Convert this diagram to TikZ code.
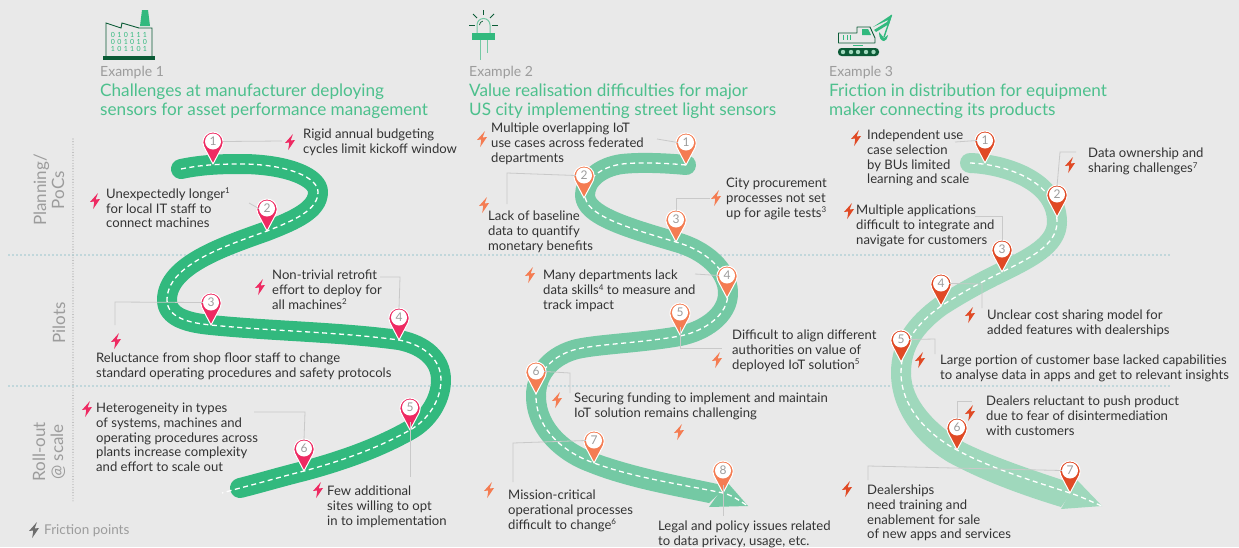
\documentclass[tikz,border=0pt]{standalone}
\usepackage{fontspec}
\setmainfont{Lato}
\definecolor{bg}{HTML}{E9E9E9}
\definecolor{roadA}{HTML}{32B97E}
\definecolor{roadB}{HTML}{74C9A4}
\definecolor{roadC}{HTML}{9FD8BC}
\definecolor{pinA}{HTML}{EE2A62}
\definecolor{pinB}{HTML}{F47C52}
\definecolor{pinC}{HTML}{E04A25}
\definecolor{titlegreen}{HTML}{4DC08D}
\definecolor{softgrey}{HTML}{9C9C9C}
\definecolor{bodytext}{HTML}{333333}
\definecolor{leadgrey}{HTML}{C9C9C9}
\definecolor{darkgreen}{HTML}{0B5B36}
\definecolor{teal}{HTML}{3F9FAF}
\tikzset{
  x=1pt,y=-1pt,
  txt/.style={anchor=north west,inner sep=0pt,align=left,text=bodytext,font=\fontsize{13.1}{14.7}\selectfont,execute at begin node=\rule{0pt}{10pt}},
  sidetxt/.style={rotate=90,inner sep=0pt,align=center,text=softgrey,font=\fontsize{17}{18}\selectfont},
  exlabel/.style={anchor=base west,inner sep=0pt,text=softgrey,font=\fontsize{14}{15}\selectfont},
  headtxt/.style={anchor=north west,inner sep=0pt,align=left,text=titlegreen,font=\fontsize{17.15}{19}\selectfont,execute at begin node=\rule{0pt}{14pt}},
  roadline/.style={line width=20pt,line cap=round,line join=round},
  dashline/.style={draw=white,line width=1.3pt,dash pattern=on 5pt off 3.5pt},
  leader/.style={draw=leadgrey,line width=0.8pt},
  sepline/.style={draw=teal,line width=1.3pt,line cap=round,dash pattern=on 0pt off 4pt},
  vsep/.style={draw=softgrey,line width=1.1pt,line cap=round,dash pattern=on 0pt off 2.7pt},
  pinhead/.style={circle,fill=white,minimum size=16pt,inner sep=0pt,text=softgrey,font=\fontsize{12}{12}\selectfont},
  digit/.style={inner sep=0pt,text=roadA,font=\fontsize{7}{7}\selectfont}
}
% bolt: centre x, y, colour
\newcommand{\boltmark}[3]{\fill[#3] (#1+3,#2-8) -- (#1-5,#2+1) -- (#1-0.7,#2+0.5) -- (#1-1.8,#2+8) -- (#1+5,#2-2) -- (#1+0.6,#2-1.5) -- cycle;}
% pin: name, tip x, tip y, colour, number
\newcommand{\pinmark}[5]{%
  \draw[white,line width=1pt,fill=#4,line join=round] (#2,#3) -- (#2-9.2,#3-17.5) arc[start angle=155,end angle=385,radius=10.2] -- cycle;
  \node[pinhead] (#1) at (#2,#3-22.5) {#5};}
\newcommand{\tx}[3]{\node[txt] at (#1,#2-5) {#3};}
\newcommand{\up}[1]{{\fontsize{8}{8}\selectfont\raisebox{4.5pt}{#1}}}
\newcommand{\roadAcurve}{(181,169) .. controls (205,164) and (225,164) .. (245,164) .. controls (290,165) and (318,178) .. (318,192) .. controls (318,210) and (295,220) .. (267,231) .. controls (225,246) and (167,265) .. (167,300) .. controls (167,318) and (190,323) .. (211,325) .. controls (270,331) and (340,332) .. (399,340) .. controls (425,345) and (441,360) .. (441,380) .. controls (441,400) and (428,420) .. (410,430) .. controls (380,447) and (345,460) .. (304,471) .. controls (280,477) and (260,483) .. (240,488)}
\newcommand{\roadBcurve}{(686,165) .. controls (665,163) and (640,162) .. (622,164) .. controls (600,167) and (585,180) .. (585,195) .. controls (585,215) and (625,227) .. (676,242) .. controls (705,250) and (728,270) .. (728,293) .. controls (728,315) and (705,331) .. (680,336) .. controls (640,343) and (600,344) .. (577,349) .. controls (553,355) and (536,372) .. (536,396)}
\newcommand{\roadCcurve}{(970,163) .. controls (1003,164) and (1057,180) .. (1057,222) .. controls (1057,245) and (1030,258) .. (1002,272) .. controls (975,285) and (955,297) .. (941,306) .. controls (915,325) and (901,345) .. (901,373)}
\begin{document}
\begin{tikzpicture}
\useasboundingbox (0,0) rectangle (1239,547);
\fill[bg] (0,0) rectangle (1239,547);

% separators
\coordinate (sa1) at (9,255); \coordinate (sa2) at (1170,255);
\coordinate (sb1) at (9,386); \coordinate (sb2) at (1170,386);
\coordinate (va) at (73,139); \coordinate (vb) at (73,502);
\draw[sepline] (sa1) -- (sa2);
\draw[sepline] (sb1) -- (sb2);
\draw[vsep] (va) -- (vb);
\node[sidetxt] at (49,190) {Planning/\\PoCs};
\node[sidetxt] at (59,323) {Pilots};
\node[sidetxt] at (49,452) {Roll-out\\@ scale};

% headers
\node[exlabel] at (100,76) {Example 1};
\node[headtxt] at (100,84) {Challenges at manufacturer deploying\\sensors for asset performance management};
\node[exlabel] at (469,76) {Example 2};
\node[headtxt] at (469,84) {Value realisation difficulties for major\\US city implementing street light sensors};
\node[exlabel] at (829,76) {Example 3};
\node[headtxt] at (829,84) {Friction in distribution for equipment\\maker connecting its products};

% factory icon
\fill[roadA] (142,10) -- (148,10) -- (150,26) -- (140,26) -- cycle;
\draw[darkgreen,line width=0.9pt] (106,56) -- (106,23) -- (121,28) -- (122,23) -- (139,28) -- (152,28) -- (152,56);
\fill[darkgreen] (103,56) rectangle (155,60);
\node[digit] at (129,35) {0\,\,1\,\,0\,\,1\,\,1\,\,1};
\node[digit] at (129,42) {0\,\,0\,\,1\,\,0\,\,1\,\,0};
\node[digit] at (129,49) {1\,\,0\,\,1\,\,1\,\,0\,\,1};

% LED icon
\draw[roadB,line width=1pt] (477,33) -- (477,25) arc[start angle=180,end angle=360,radius=6.5] -- (490,33);
\draw[darkgreen,line width=0.7pt] (479.5,25) arc[start angle=180,end angle=260,radius=4];
\fill[roadA] (472,33) rectangle (495,40);
\draw[roadB,line width=1pt] (480,40) -- (480,60);
\draw[roadB,line width=1pt] (487,40) -- (487,53);
\draw[darkgreen,line width=0.8pt] (483.5,10) -- (483.5,15);
\draw[darkgreen,line width=0.8pt] (473,14) -- (477,18);
\draw[darkgreen,line width=0.8pt] (494,14) -- (490,18);
\draw[darkgreen,line width=0.8pt] (469,25) -- (475,25);
\draw[darkgreen,line width=0.8pt] (492,25) -- (498,25);

% excavator icon
\draw[darkgreen,line width=0.9pt,line join=round] (838.5,42) -- (838.5,33) -- (857,33) -- (857,27) -- (870,27) -- (875,38) -- (875,43) -- (838.5,43) -- cycle;
\fill[roadA] (862,29) -- (868,29) -- (871,35) -- (862,35) -- cycle;
\draw[roadA,line width=0.8pt] (843,35) -- (843,40) (847,35) -- (847,40) (850.5,35) -- (850.5,40) (853,45) -- (863,45);
\fill[darkgreen,rounded corners=3.5pt] (838,48) rectangle (879,56);
\foreach \cx in {843,851,858,866,873.5} {\fill[roadC] (\cx,52) circle[radius=2.2];}
\fill[roadA] (873,27) -- (892,14.5) -- (889,24) -- (876,32) -- (874,30) -- (887,22) -- (888,20) -- cycle;
\draw[roadA,line width=1.4pt] (891.5,15) -- (884,37);
\fill[roadA] (879,32) .. controls (879,38) and (881,41) .. (884,41) .. controls (886,41) and (887,39) .. (888,35) -- (884,38) -- cycle;

% road 1
\draw[roadA,roadline] \roadAcurve;
\draw[dashline] \roadAcurve -- (222,493);

% road 2
\draw[roadB,roadline,line cap=round] \roadBcurve;
\fill[roadB] (546,396) .. controls (546,425) and (572,446) .. (598,454) .. controls (640,469) and (690,478) .. (727,486) -- (709,503) .. controls (670,495) and (625,487) .. (588,472) .. controls (555,460) and (526,432) .. (526,396) -- cycle;
\fill[roadB] (727,482) -- (748,506) -- (709,507) -- cycle;
\draw[dashline] \roadBcurve .. controls (536,430) and (565,453) .. (594,463) .. controls (635,478) and (680,484) .. (723,493) .. controls (732,495) and (740,501) .. (748,506);

% road 3
\draw[roadC,roadline] \roadCcurve;
\fill[roadC] (911,373) .. controls (911,400) and (935,425) .. (965,443) .. controls (1000,460) and (1045,474) .. (1077,485) -- (1061,507) .. controls (1025,496) and (985,482) .. (948,462) .. controls (915,442) and (891,410) .. (891,373) -- cycle;
\fill[roadC] (1077,480) -- (1102,506) -- (1061,509) -- cycle;
\draw[dashline] \roadCcurve .. controls (901,405) and (925,433) .. (957,450) .. controls (990,468) and (1030,480) .. (1070,493) .. controls (1080,496) and (1092,502) .. (1102,506);

% leader ends
\coordinate (la) at (282,141);
\coordinate (lb) at (249,203);
\coordinate (lc1) at (115,302); \coordinate (lc2) at (115,325);
\coordinate (ld1) at (380,277); \coordinate (ld2) at (400,277);
\coordinate (le) at (410,477);
\coordinate (lf1) at (254,412); \coordinate (lf2) at (305,412);
\coordinate (ma) at (657,139);
\coordinate (mb1) at (507,173); \coordinate (mb2) at (507,204);
\coordinate (mc1) at (676,198); \coordinate (mc2) at (710,198);
\coordinate (md) at (695,274);
\coordinate (me1) at (680,348); \coordinate (me2) at (722,348);
\coordinate (mf1) at (570,373); \coordinate (mf2) at (570,393);
\coordinate (mg1) at (513,443); \coordinate (mg2) at (513,482);
\coordinate (mh) at (723,516);
\coordinate (na) at (955,142);
\coordinate (nb1) at (1060,152); \coordinate (nb2) at (1076,152);
\coordinate (nc1) at (975,216); \coordinate (nc2) at (1002,216);
\coordinate (nd1) at (982,284); \coordinate (nd2) at (982,308);
\coordinate (ne1) at (935,339); \coordinate (ne2) at (935,354);
\coordinate (nf1) at (957,401); \coordinate (nf2) at (972,401);
\coordinate (ng1) at (868,466); \coordinate (ng2) at (868,480);

% pins
\pinmark{aa}{213}{164}{pinA}{1}
\pinmark{ab}{267}{231}{pinA}{2}
\pinmark{ac}{211}{325}{pinA}{3}
\pinmark{ad}{399}{340}{pinA}{4}
\pinmark{ae}{410}{430}{pinA}{5}
\pinmark{af}{304}{471}{pinA}{6}
\pinmark{ba}{686}{165}{pinB}{1}
\pinmark{bb}{584}{198}{pinB}{2}
\pinmark{bc}{676}{242}{pinB}{3}
\pinmark{bd}{727}{298}{pinB}{4}
\pinmark{be}{680}{335}{pinB}{5}
\pinmark{bf}{536}{394}{pinB}{6}
\pinmark{bg}{594}{463}{pinB}{7}
\pinmark{bh}{723}{493}{pinB}{8}
\pinmark{ca}{985}{163}{pinC}{1}
\pinmark{cb}{1057}{217}{pinC}{2}
\pinmark{cc}{1002}{272}{pinC}{3}
\pinmark{cd}{941}{306}{pinC}{4}
\pinmark{ce}{901}{362}{pinC}{5}
\pinmark{cf}{957}{450}{pinC}{6}
\pinmark{cg}{1070}{493}{pinC}{7}

% leaders
\draw[leader] (aa.east) ++(2,0) -- (la);
\draw[leader] (lb) -- (ab.west);
\draw[leader] (lc2) -- (lc1) -- (ac.west);
\draw[leader] (ld1) -- (ld2) -- (ad.north);
\draw[leader] (ae.south) ++(0,6.5) -- (le);
\draw[leader] (lf1) -- (lf2) -- (af.north);
\draw[leader] (ma) -- (ba.west);
\draw[leader] (mb2) -- (mb1) -- (bb.west);
\draw[leader] (bc.north) -- (mc1) -- (mc2);
\draw[leader] (md) -- (bd.west);
\draw[leader] (be.south) ++(0,6.5) -- (me1) -- (me2);
\draw[leader] (bf.east) -- (mf1) -- (mf2);
\draw[leader] (mg2) -- (mg1) -- (bg.west);
\draw[leader] (bh.south) ++(0,6.5) -- (mh);
\draw[leader] (na) -- (ca.west);
\draw[leader] (cb.north) -- (nb1) -- (nb2);
\draw[leader] (nc1) -- (nc2) -- (cc.north);
\draw[leader] (cd.east) -- (nd1) -- (nd2);
\draw[leader] (ce.east) -- (ne1) -- (ne2);
\draw[leader] (cf.north) -- (nf1) -- (nf2);
\draw[leader] (ng2) -- (ng1) -- (cg.west);

% bolts
\boltmark{290}{142}{pinA} \boltmark{95}{201}{pinA} \boltmark{260}{287}{pinA}
\boltmark{116}{341}{pinA} \boltmark{87}{409}{pinA} \boltmark{318}{490}{pinA}
\boltmark{482}{139}{pinB} \boltmark{484}{205}{pinB} \boltmark{716}{198}{pinB}
\boltmark{530}{275}{pinB} \boltmark{717}{360}{pinB} \boltmark{557}{400}{pinB}
\boltmark{679}{432}{pinB} \boltmark{489}{490}{pinB}
\boltmark{856}{138}{pinC} \boltmark{1070}{165}{pinC} \boltmark{849}{211}{pinC}
\boltmark{970}{315}{pinC} \boltmark{920}{360}{pinC} \boltmark{970}{413}{pinC}
\boltmark{847}{489}{pinC}
\boltmark{34}{530}{softgrey!70!black}
\node[anchor=west,inner sep=0pt,text=softgrey,font=\fontsize{13.5}{15}\selectfont] at (44,531) {Friction points};

% texts
\tx{303}{134}{Rigid annual budgeting\\cycles limit kickoff window}
\tx{106}{193}{Unexpectedly longer\up{1}\\for local IT staff to\\connect machines}
\tx{272}{275}{Non-trivial retrofit\\effort to deploy for\\all machines\up{2}}
\tx{96}{358}{Reluctance from shop floor staff to change\\standard operating procedures and safety protocols}
\tx{96}{408}{Heterogeneity in types\\of systems, machines and\\operating procedures across\\plants increase complexity\\and effort to scale out}
\tx{327}{491}{Few additional\\sites willing to opt\\in to implementation}
\tx{491}{128}{Multiple overlapping IoT\\use cases across federated\\departments}
\tx{488}{216}{Lack of baseline\\data to quantify\\monetary benefits}
\tx{726}{183}{City procurement\\processes not set\\up for agile tests\up{3}}
\tx{543}{275}{Many departments lack\\data skills\up{4} to measure and\\track impact}
\tx{732}{335}{Difficult to align different\\authorities on value of\\deployed IoT solution\up{5}}
\tx{574}{398}{Securing funding to implement and maintain\\IoT solution remains challenging}
\tx{508}{495}{Mission-critical\\operational processes\\difficult to change\up{6}}
\tx{658}{526}{Legal and policy issues related\\to data privacy, usage, etc.}
\tx{867}{135}{Independent use\\case selection\\by BUs limited\\learning and scale}
\tx{1088}{153}{Data ownership and\\sharing challenges\up{7}}
\tx{856}{210}{Multiple applications\\difficult to integrate and\\navigate for customers}
\tx{987}{315}{Unclear cost sharing model for\\added features with dealerships}
\tx{940}{360}{Large portion of customer base lacked capabilities\\to analyse data in apps and get to relevant insights}
\tx{986}{401}{Dealers reluctant to push product\\due to fear of disintermediation\\with customers}
\tx{867}{490}{Dealerships\\need training and\\enablement for sale\\of new apps and services}
\end{tikzpicture}
\end{document}
